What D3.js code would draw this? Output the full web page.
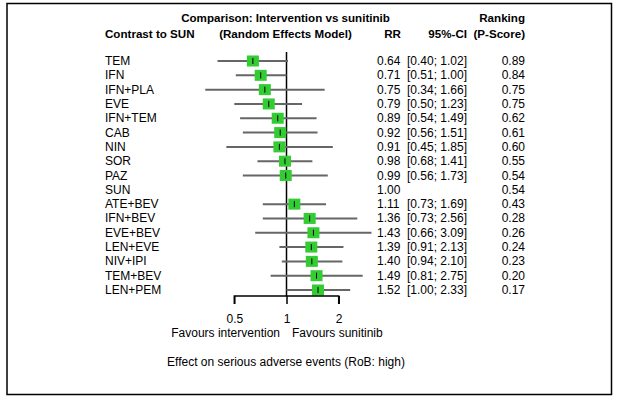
<!DOCTYPE html>
<html><head><meta charset="utf-8">
<script src="https://cdn.jsdelivr.net/npm/d3@7"></script>
<style>body{margin:0;background:#fff}svg{display:block}text{font-family:Arial,"Liberation Sans",sans-serif;font-size:12px;fill:#000}</style>
</head><body>
<script>
const treatments = ["TEM","IFN","IFN+PLA","EVE","IFN+TEM","CAB","NIN","SOR","PAZ","SUN","ATE+BEV","IFN+BEV","EVE+BEV","LEN+EVE","NIV+IPI","TEM+BEV","LEN+PEM"];
const rr    = [0.64,0.71,0.75,0.79,0.89,0.92,0.91,0.98,0.99,1.00,1.11,1.36,1.43,1.39,1.40,1.49,1.52];
const lower = [0.40,0.51,0.34,0.50,0.54,0.56,0.45,0.68,0.56,null,0.73,0.73,0.66,0.91,0.94,0.81,1.00];
const upper = [1.02,1.00,1.66,1.23,1.49,1.51,1.85,1.41,1.73,null,1.69,2.56,3.09,2.13,2.10,2.75,2.33];
const pscore = [0.89,0.84,0.75,0.75,0.62,0.61,0.60,0.55,0.54,0.54,0.43,0.28,0.26,0.24,0.23,0.20,0.17];
const tickValues = [0.5,1,2];

const W=617,H=402;
const svg=d3.select("body").append("svg").attr("width",W).attr("height",H);
svg.append("rect").attr("x",7).attr("y",3.5).attr("width",604.5).attr("height",391).attr("fill","none").attr("stroke","#000").attr("stroke-width",1.5);

const x=d3.scaleLog().domain([0.5,2]).range([234.3,338.7]);
const y=d3.scalePoint().domain(treatments).range([61,290]);

function txt(t,xx,yy,anchor,b){const e=svg.append("text").attr("x",xx).attr("y",yy).attr("text-anchor",anchor||"start").attr("dominant-baseline","central").text(t);if(b)e.style("font-weight","bold").style("font-size","11.6px");return e;}
txt("Comparison: Intervention vs sunitinib",285.5,17,"middle",true);
txt("Ranking",525,17,"end",true);
txt("Contrast to SUN",105,33,"start",true);
txt("(Random Effects Model)",285.5,33,"middle",true);
txt("RR",401,33,"end",true);
txt("95%-CI",467,33,"end",true);
txt("(P-Score)",525,33,"end",true);

// reference line
svg.append("line").attr("x1",x(1)).attr("x2",x(1)).attr("y1",52).attr("y2",296).attr("stroke","#000").attr("stroke-width",1.5);

const rows=svg.append("g").selectAll("g").data(treatments.map((t,i)=>({t,i}))).join("g");
const est=rows.filter(d=>lower[d.i]!=null);
est.append("line")
  .attr("x1",d=>x(lower[d.i])).attr("x2",d=>x(upper[d.i]))
  .attr("y1",d=>y(d.t)).attr("y2",d=>y(d.t))
  .attr("stroke","#666").attr("stroke-width",2);
est.append("rect")
  .attr("x",d=>x(rr[d.i])-6).attr("y",d=>y(d.t)-5.5).attr("width",12).attr("height",11)
  .attr("fill","#33cc33");
est.append("line")
  .attr("x1",d=>x(rr[d.i])).attr("x2",d=>x(rr[d.i]))
  .attr("y1",d=>y(d.t)-3).attr("y2",d=>y(d.t)+3)
  .attr("stroke","#000").attr("stroke-width",1);

rows.append("text").attr("x",105).attr("y",d=>y(d.t)).attr("dominant-baseline","central").text(d=>d.t);
rows.append("text").attr("x",377).attr("y",d=>y(d.t)).attr("dominant-baseline","central").text(d=>rr[d.i].toFixed(2));
est.append("text").attr("x",467).attr("y",d=>y(d.t)).attr("text-anchor","end").attr("dominant-baseline","central")
  .text(d=>`[${lower[d.i].toFixed(2)}; ${upper[d.i].toFixed(2)}]`);
rows.append("text").attr("x",525).attr("y",d=>y(d.t)).attr("text-anchor","end").attr("dominant-baseline","central").text(d=>pscore[d.i].toFixed(2));

// axis
const ax=svg.append("g").attr("transform","translate(0,296)")
  .call(d3.axisBottom(x).tickValues(tickValues).tickFormat(d3.format("")).tickSize(8).tickPadding(10));
ax.select(".domain").attr("stroke","#000").attr("stroke-width",1.5).attr("d",`M${x(0.5)},8V0H${x(2)}V8`);
ax.selectAll(".tick line").attr("stroke","#000").attr("stroke-width",1.5);
ax.selectAll(".tick text").attr("font-size",12).attr("font-family","Arial,'Liberation Sans',sans-serif").attr("fill","#000");

txt("Favours intervention",280,333,"end");
txt("Favours sunitinib",292,333,"start");
txt("Effect on serious adverse events (RoB: high)",286,362,"middle");
</script>
</body></html>
